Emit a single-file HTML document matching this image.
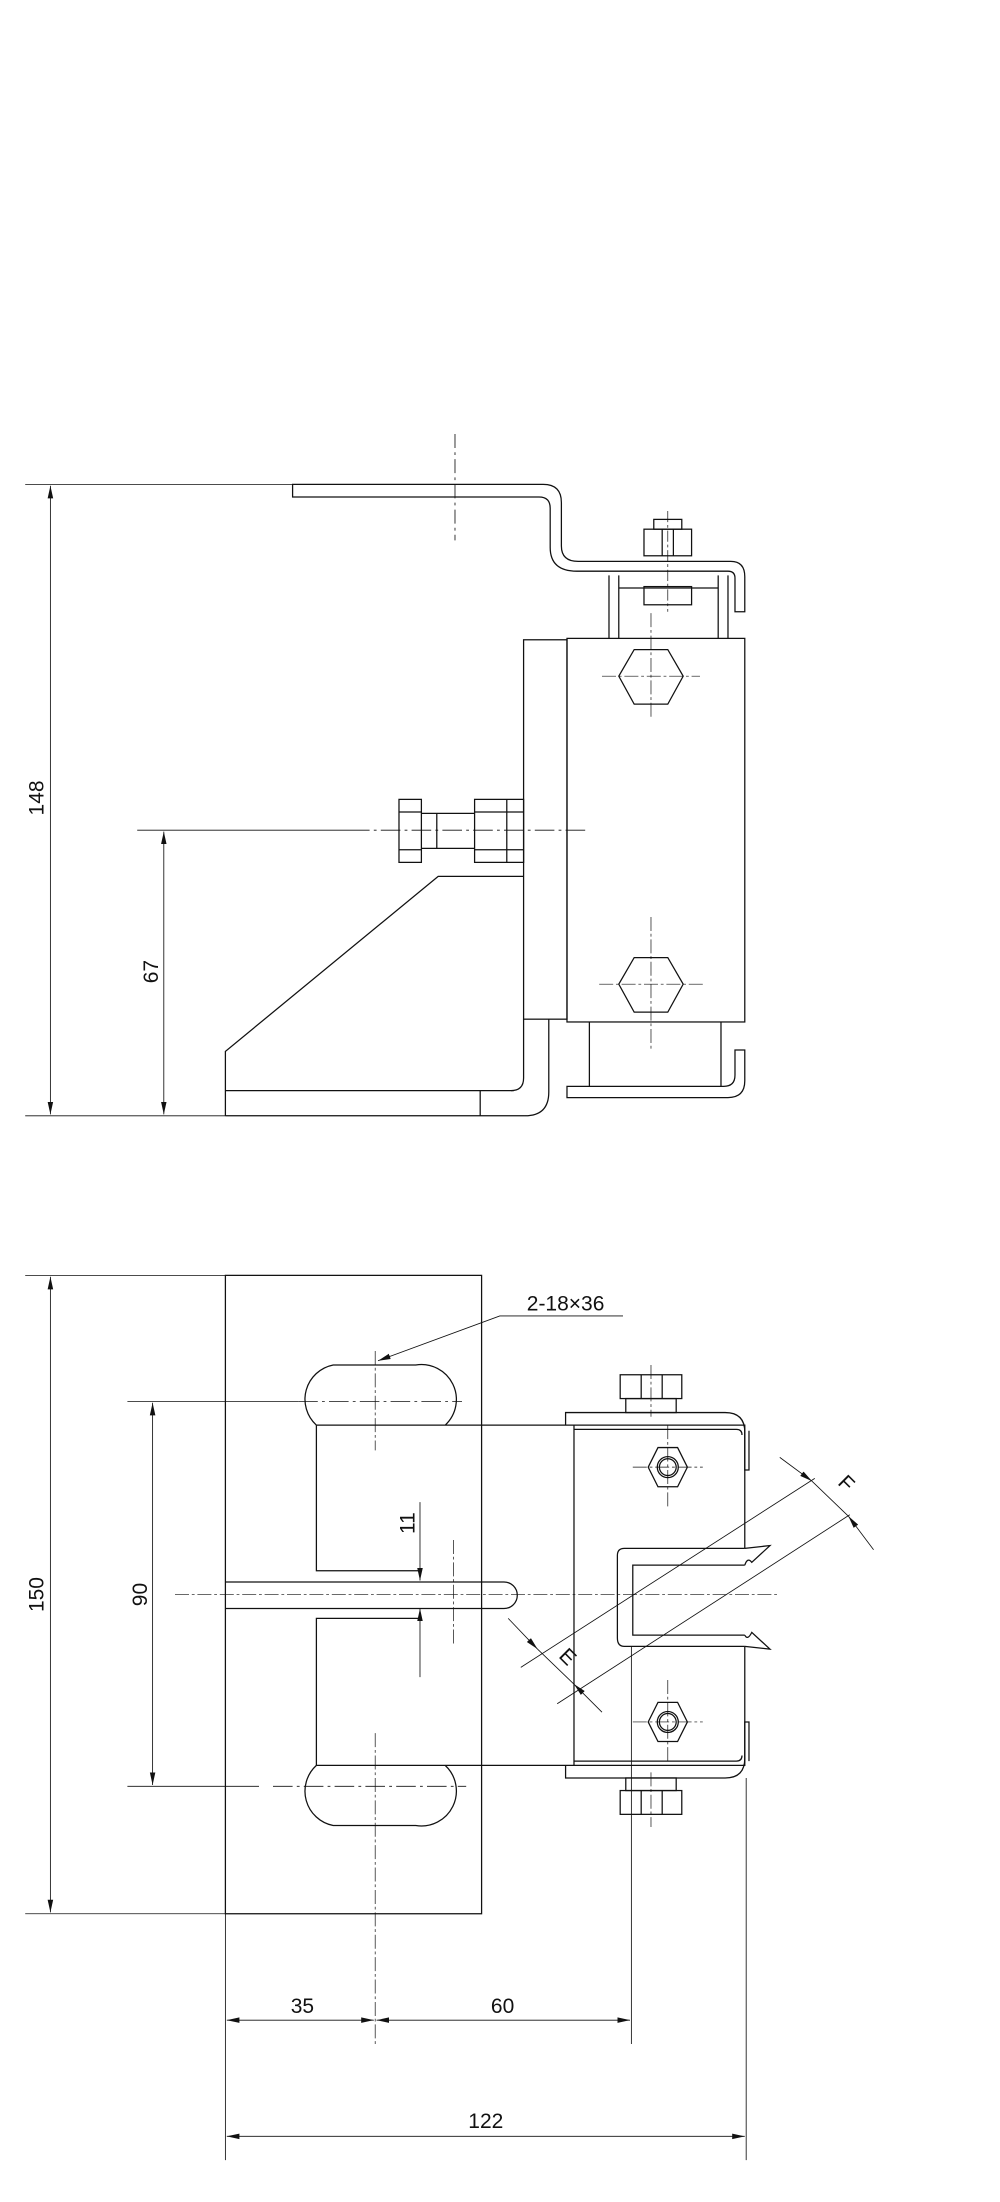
<!DOCTYPE html>
<html><head><meta charset="utf-8"><style>
html,body{margin:0;padding:0;background:#fff;}
svg{display:block;}
text{font-family:"Liberation Sans",sans-serif;fill:#111;}
</style></head><body>
<svg width="1000" height="2202" viewBox="0 0 714.3 1572.9" xmlns="http://www.w3.org/2000/svg">
<defs>
<marker id="a" viewBox="0 0 10 10" refX="10" refY="5" markerWidth="9" markerHeight="9" markerUnits="userSpaceOnUse" orient="auto-start-reverse"><path d="M0,2.8 L10,5 L0,7.2 Z" fill="#111"/></marker>
</defs>
<g fill="none" stroke="#111" stroke-width="0.9">
<!-- ===== TOP VIEW ===== -->
<line x1="18" y1="346" x2="209" y2="346" stroke-width="0.6"/>
<line x1="18" y1="797" x2="161" y2="797" stroke-width="0.6"/>
<line x1="36" y1="347" x2="36" y2="796" stroke-width="0.6" marker-start="url(#a)" marker-end="url(#a)"/>
<line x1="98" y1="593" x2="250" y2="593" stroke-width="0.6"/>
<line x1="250" y1="593" x2="418" y2="593" stroke-width="0.6" stroke-dasharray="14,3,2,3"/>
<line x1="117" y1="594" x2="117" y2="796" stroke-width="0.6" marker-start="url(#a)" marker-end="url(#a)"/>
<!-- top plate -->
<path d="M209,346 H388 Q401,346 401,359 V390 Q401,401 413,401 H522 Q532,401 532,412 V437 H525 V413 Q525,408 520,408 H412 Q393,408 393,391 V363 Q393,355 385,355 H209 Z"/>
<line x1="325" y1="310" x2="325" y2="386" stroke-width="0.6" stroke-dasharray="10,3,2,3"/>
<!-- top bolt -->
<rect x="467" y="371" width="20" height="7"/>
<rect x="460" y="378" width="34" height="19"/>
<line x1="473" y1="378" x2="473" y2="397"/><line x1="481" y1="378" x2="481" y2="397"/>
<rect x="460" y="419" width="34" height="13"/>
<line x1="435" y1="411" x2="435" y2="456"/><line x1="442" y1="411" x2="442" y2="456"/>
<line x1="513" y1="411" x2="513" y2="456"/><line x1="520" y1="411" x2="520" y2="456"/>
<line x1="442" y1="420" x2="513" y2="420"/>
<line x1="477" y1="365" x2="477" y2="437" stroke-width="0.5" stroke-dasharray="8,2,2,2"/>
<!-- main box -->
<rect x="374" y="457" width="31" height="271"/>
<rect x="405" y="456" width="127" height="274"/>
<polygon points="453,464 477,464 488,483 477,503 453,503 442,483"/>
<polygon points="453,684 477,684 488,703 477,723 453,723 442,703"/>
<g stroke-width="0.5" stroke-dasharray="10,2,2,2">
<line x1="465" y1="438" x2="465" y2="512"/><line x1="430" y1="483" x2="500" y2="483"/>
<line x1="465" y1="655" x2="465" y2="750"/><line x1="428" y1="703" x2="502" y2="703"/>
</g>
<!-- left bolt -->
<rect x="285" y="571" width="16" height="45"/>
<line x1="285" y1="580" x2="301" y2="580"/><line x1="285" y1="607" x2="301" y2="607"/>
<path d="M301,581 H339 M301,606 H339 M312,581 V606"/>
<rect x="339" y="571" width="35" height="45"/>
<line x1="362" y1="571" x2="362" y2="616"/><line x1="339" y1="580" x2="374" y2="580"/><line x1="339" y1="607" x2="374" y2="607"/>
<!-- gusset -->
<path d="M161,797 V751 L313,626 H374"/>
<path d="M161,779 H367 M343,779 V797 M161,797 H375"/>
<path d="M374,728 V770 Q374,779 365,779 M392,728 V780 Q392,797 375,797"/>
<!-- bottom right clip -->
<path d="M421,730 V776 M515,730 V776"/>
<path d="M405,776 H517 Q525,776 525,768 V750 H532 V772 Q532,784 520,784 H405 Z"/>
<!-- ===== BOTTOM VIEW ===== -->
<line x1="18" y1="911" x2="161" y2="911" stroke-width="0.6"/>
<line x1="18" y1="1367" x2="161" y2="1367" stroke-width="0.6"/>
<line x1="36" y1="912" x2="36" y2="1366" stroke-width="0.6" marker-start="url(#a)" marker-end="url(#a)"/>
<rect x="161" y="911" width="183" height="456"/>
<line x1="91" y1="1001" x2="213" y2="1001" stroke-width="0.6"/>
<line x1="213" y1="1001" x2="330" y2="1001" stroke-width="0.6" stroke-dasharray="14,3,2,3"/>
<line x1="91" y1="1276" x2="185" y2="1276" stroke-width="0.6"/>
<line x1="195" y1="1276" x2="333" y2="1276" stroke-width="0.6" stroke-dasharray="14,3,2,3"/>
<line x1="109" y1="1002" x2="109" y2="1275" stroke-width="0.6" marker-start="url(#a)" marker-end="url(#a)"/>
<!-- slots -->
<path d="M226,1018 A25,25 0 0 1 238,975 H297 A25,25 0 0 1 318,1018"/>
<path d="M226,1261 A25,25 0 0 0 238,1304 H297 A25,25 0 0 0 318,1261"/>
<!-- body -->
<path d="M226,1018 H410 M226,1018 V1122 H300 M226,1261 V1156 H300 M226,1261 H410"/>
<path d="M161,1130 H360 A9.5,9.5 0 0 1 360,1149 H161"/>
<path d="M410,1018 H532 V1106 M410,1018 V1261 H532 V1176"/>
<path d="M532,1106 H446 Q441,1106 441,1111 V1170 Q441,1176 446,1176 H532"/>
<path d="M532,1118 H452 V1168 H532"/>
<path d="M532,1106 L550,1104 L537,1116 Q534,1112 532,1118 M532,1168 Q534,1172 537,1166 L550,1178 L532,1176"/>
<!-- clips top/bottom -->
<path d="M404,1018 V1009 H518 Q532,1009 532,1023 V1050 H535 V1022"/>
<path d="M404,1261 V1270 H518 Q532,1270 532,1256 V1230 H535 V1258"/>
<path d="M410,1021 H526 Q530,1021 530,1025 M410,1258 H526 Q530,1258 530,1254"/>
<rect x="443" y="982" width="44" height="17"/><line x1="458" y1="982" x2="458" y2="999"/><line x1="473" y1="982" x2="473" y2="999"/>
<rect x="447" y="999" width="36" height="10"/>
<rect x="443" y="1279" width="44" height="17"/><line x1="458" y1="1279" x2="458" y2="1296"/><line x1="473" y1="1279" x2="473" y2="1296"/>
<rect x="447" y="1270" width="36" height="9"/>
<polygon points="470,1034 484,1034 491,1048 484,1062 470,1062 463,1048"/>
<circle cx="477" cy="1048" r="7.5"/><circle cx="477" cy="1048" r="6"/>
<polygon points="470,1216 484,1216 491,1230 484,1244 470,1244 463,1230"/>
<circle cx="477" cy="1230" r="7.5"/><circle cx="477" cy="1230" r="6"/>
<g stroke-width="0.5" stroke-dasharray="10,2,2,2">
<line x1="125" y1="1139" x2="556" y2="1139"/>
<line x1="268" y1="965" x2="268" y2="1036"/>
<line x1="268" y1="1238" x2="268" y2="1460"/>
<line x1="324" y1="1100" x2="324" y2="1176"/>
<line x1="477" y1="1018" x2="477" y2="1078"/><line x1="452" y1="1048" x2="502" y2="1048"/>
<line x1="477" y1="1200" x2="477" y2="1260"/><line x1="452" y1="1230" x2="502" y2="1230"/>
<line x1="465" y1="975" x2="465" y2="1012"/><line x1="465" y1="1266" x2="465" y2="1305"/>
</g>
<!-- 11 -->
<line x1="300" y1="1073" x2="300" y2="1129" stroke-width="0.6" marker-end="url(#a)"/>
<line x1="300" y1="1198" x2="300" y2="1149" stroke-width="0.6" marker-end="url(#a)"/>
<!-- leader -->
<path d="M445,940 H357 L270,972" stroke-width="0.6" marker-end="url(#a)"/>
<!-- 35 / 60 / 122 -->
<line x1="451" y1="1176" x2="451" y2="1460" stroke-width="0.6"/>
<line x1="161" y1="1367" x2="161" y2="1543" stroke-width="0.6"/>
<line x1="533" y1="1270" x2="533" y2="1543" stroke-width="0.6"/>
<line x1="162" y1="1443" x2="267" y2="1443" stroke-width="0.6" marker-start="url(#a)" marker-end="url(#a)"/>
<line x1="269" y1="1443" x2="450" y2="1443" stroke-width="0.6" marker-start="url(#a)" marker-end="url(#a)"/>
<line x1="162" y1="1526" x2="532" y2="1526" stroke-width="0.6" marker-start="url(#a)" marker-end="url(#a)"/>
<!-- E / F -->
<line x1="372" y1="1191" x2="582" y2="1056" stroke-width="0.6"/>
<line x1="398" y1="1217" x2="607" y2="1082" stroke-width="0.6"/>
<line x1="557" y1="1041" x2="580" y2="1058" stroke-width="0.6" marker-end="url(#a)"/>
<line x1="624" y1="1107" x2="606" y2="1083" stroke-width="0.6" marker-end="url(#a)"/>
<line x1="580" y1="1058" x2="606" y2="1083" stroke-width="0.6"/>
<line x1="363" y1="1156" x2="384" y2="1178" stroke-width="0.6" marker-end="url(#a)"/>
<line x1="430" y1="1223" x2="410" y2="1203" stroke-width="0.6" marker-end="url(#a)"/>
<line x1="384" y1="1178" x2="410" y2="1203" stroke-width="0.6"/>
</g>
<g font-size="15">
<text transform="translate(31,570) rotate(-90)" text-anchor="middle">148</text>
<text transform="translate(113,694) rotate(-90)" text-anchor="middle">67</text>
<text transform="translate(31,1139) rotate(-90)" text-anchor="middle">150</text>
<text transform="translate(105,1139) rotate(-90)" text-anchor="middle">90</text>
<text transform="translate(296,1088) rotate(-90)" text-anchor="middle">11</text>
<text x="404" y="936" text-anchor="middle">2-18×36</text>
<text x="216" y="1438" text-anchor="middle">35</text>
<text x="359" y="1438" text-anchor="middle">60</text>
<text x="347" y="1520" text-anchor="middle">122</text>
<text transform="translate(601,1063) rotate(45)" text-anchor="middle">F</text>
<text transform="translate(402,1187) rotate(45)" text-anchor="middle">E</text>
</g>
</svg>
</body></html>
